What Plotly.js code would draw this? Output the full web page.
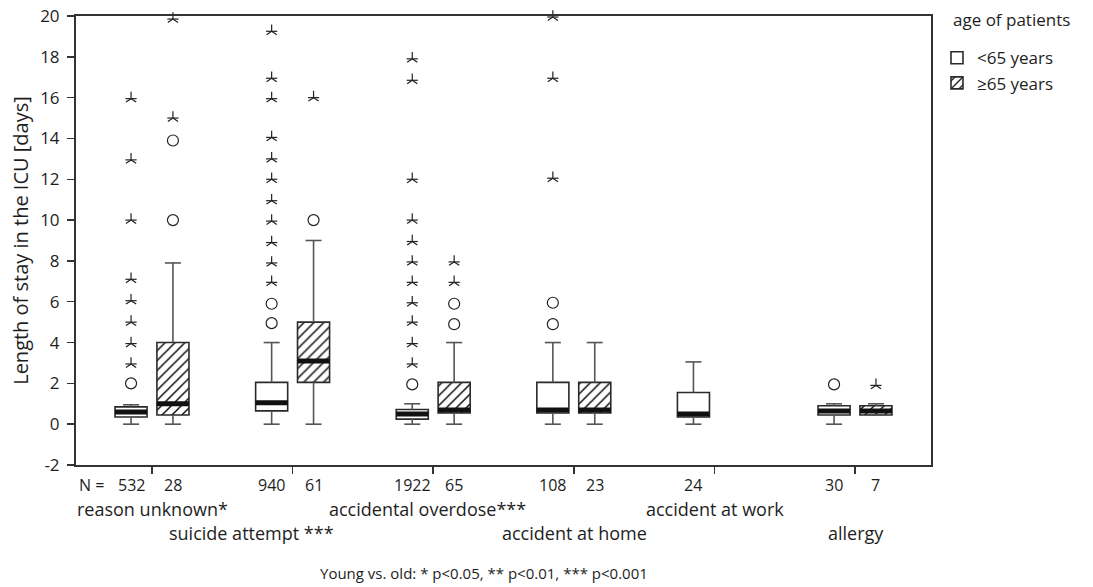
<!DOCTYPE html>
<html>
<head>
<meta charset="utf-8">
<script src="https://cdn.plot.ly/plotly-3.0.1.min.js"></script>
<style>
  html, body { margin: 0; padding: 0; background: #fff; }
  #chart { width: 1093px; height: 587px; }
</style>
</head>
<body>
<div id="chart"></div>
<script>
// ---------------- data ----------------
const categories = ["reason unknown", "suicide attempt", "accidental overdose", "accident at home", "accident at work", "allergy"];
const significance = ["*", " ***", "***", "", "", ""];
const nYoung = [532, 940, 1922, 108, 24, 30];
const nOld = [28, 61, 65, 23, null, 7];

// <65 years: box statistics (days)
const q1Young  = [0.35, 0.65, 0.25, 0.55, 0.35, 0.45];
const medYoung = [0.6, 1.05, 0.5, 0.7, 0.5, 0.65];
const q3Young  = [0.85, 2.05, 0.72, 2.05, 1.55, 0.9];
const loYoung  = [0, 0, 0, 0, 0, 0];
const hiYoung  = [0.95, 4, 1, 4, 3.05, 1];

// >=65 years: box statistics (days)
const q1Old  = [0.45, 2.05, 0.55, 0.55, null, 0.45];
const medOld = [1.0, 3.1, 0.7, 0.7, null, 0.65];
const q3Old  = [4, 5, 2.05, 2.05, null, 0.9];
const loOld  = [0, 0, 0, 0, null, 0.45];
const hiOld  = [7.9, 9, 4, 4, null, 1.0];

// outliers (circles) and extreme values (stars)
const circlesYoung = [[2], [4.95, 5.9], [1.95], [4.9, 5.95], [], [1.95]];
const starsYoung = [
  [2.95, 3.95, 5, 6.05, 7.1, 10, 12.95, 15.95],
  [6.95, 7.9, 8.9, 9.95, 10.95, 12, 13, 14.05, 15.95, 16.95, 19.25],
  [2.95, 3.95, 5, 5.95, 6.95, 7.95, 8.95, 10, 12, 16.85, 17.9],
  [12.05, 16.95, 19.95],
  [],
  []
];
const circlesOld = [[10, 13.9], [10], [4.9, 5.9], [], [], []];
const starsOld = [[15, 19.85], [16], [6.95, 7.95], [], [], [1.9]];

const yTickVals = [-2, 0, 2, 4, 6, 8, 10, 12, 14, 16, 18, 20];
const yTickText = ["-2", "0", "2", "4", "6", "8", "10", "12", "14", "16", "18", "20"];

// ---------------- style ----------------
const FONT = "Open Sans, Noto Sans, sans-serif";
const TXT = "#1e1e1e";
const OFFSET = 0.149;      // box centre offset from category centre
const BOXW = 0.228;        // box width (axis units)
const CAP = 0.057;         // half-width of whisker caps
const labelShift = [0, -41, -6, 1, 1, 0.5];   // px shift of category labels
const labelRow = [0, 1, 0, 1, 0, 1];

const catIdx = categories.map((c, i) => i);
const xYoung = catIdx.map(i => i - OFFSET);
const xOld = catIdx.map(i => i + OFFSET);

function whiskers(xs, q1, q3, lo, hi) {
  const X = [], Y = [];
  xs.forEach((x, i) => {
    if (q1[i] === null) return;
    X.push(x, x, null, x - CAP, x + CAP, null, x, x, null, x - CAP, x + CAP, null);
    Y.push(q3[i], hi[i], null, hi[i], hi[i], null, q1[i], lo[i], null, lo[i], lo[i], null);
  });
  return {X, Y};
}
function medians(xs, med) {
  const X = [], Y = [];
  xs.forEach((x, i) => {
    if (med[i] === null) return;
    X.push(x - BOXW / 2, x + BOXW / 2, null);
    Y.push(med[i], med[i], null);
  });
  return {X, Y};
}
function points(xs, lists) {
  const X = [], Y = [];
  xs.forEach((x, i) => lists[i].forEach(v => { X.push(x); Y.push(v); }));
  return {X, Y};
}

const traces = [];
const wY = whiskers(xYoung, q1Young, q3Young, loYoung, hiYoung);
const wO = whiskers(xOld, q1Old, q3Old, loOld, hiOld);
[wY, wO].forEach(w => traces.push({
  type: "scatter", mode: "lines", x: w.X, y: w.Y, connectgaps: false,
  line: {color: "#555", width: 1.6}, showlegend: false, hoverinfo: "skip"
}));

traces.push({
  type: "bar", name: "&lt;65 years", x: xYoung,
  base: q1Young, y: q3Young.map((v, i) => v - q1Young[i]),
  width: BOXW,
  marker: {color: "#ffffff", line: {color: "#2a2a2a", width: 1.6}},
  hoverinfo: "skip"
});
traces.push({
  type: "bar", name: "≥65 years", x: xOld,
  base: q1Old, y: q3Old.map((v, i) => v === null ? null : v - q1Old[i]),
  width: BOXW,
  marker: {color: "#ffffff", line: {color: "#2a2a2a", width: 1.6},
           pattern: {shape: "/", fgcolor: "#111", bgcolor: "#ffffff", size: 7, solidity: 0.22}},
  hoverinfo: "skip"
});

const mY = medians(xYoung, medYoung), mO = medians(xOld, medOld);
[mY, mO].forEach(m => traces.push({
  type: "scatter", mode: "lines", x: m.X, y: m.Y, connectgaps: false,
  line: {color: "#111", width: 5}, showlegend: false, hoverinfo: "skip"
}));

const cY = points(xYoung, circlesYoung), cO = points(xOld, circlesOld);
const sY = points(xYoung, starsYoung), sO = points(xOld, starsOld);
[cY, cO].forEach(p => traces.push({
  type: "scatter", mode: "markers", x: p.X, y: p.Y, cliponaxis: false,
  marker: {symbol: "circle-open", size: 11, color: "#222", line: {width: 1.2, color: "#222"}},
  showlegend: false, hoverinfo: "skip"
}));
[sY, sO].forEach(p => {
  traces.push({
    type: "scatter", mode: "markers", x: p.X, y: p.Y, cliponaxis: false,
    marker: {symbol: "y-up-open", size: 8.5, color: "#222", line: {width: 1.2, color: "#222"}},
    showlegend: false, hoverinfo: "skip"
  });
  traces.push({
    type: "scatter", mode: "markers", x: p.X, y: p.Y, cliponaxis: false,
    marker: {symbol: "line-ew-open", size: 8, color: "#222", line: {width: 1.2, color: "#222"}},
    showlegend: false, hoverinfo: "skip"
  });
});

// ---------------- annotations ----------------
const ann = [];
ann.push({xref: "paper", yref: "paper", x: 0, y: 0, xanchor: "left", yanchor: "middle",
  xshift: 1, yshift: -20, text: "N =", showarrow: false, font: {size: 16, color: TXT, family: FONT}});
xYoung.forEach((x, i) => ann.push({xref: "x", yref: "paper", x: x, y: 0, yanchor: "middle", yshift: -20,
  text: String(nYoung[i]), showarrow: false, font: {size: 16, color: TXT, family: FONT}}));
xOld.forEach((x, i) => { if (nOld[i] !== null) ann.push({xref: "x", yref: "paper", x: x, y: 0, yanchor: "middle", yshift: -20,
  text: String(nOld[i]), showarrow: false, font: {size: 16, color: TXT, family: FONT}}); });
categories.forEach((c, i) => ann.push({xref: "x", yref: "paper", x: i, y: 0, yanchor: "middle",
  xshift: labelShift[i], yshift: labelRow[i] ? -68 : -44,
  text: c + significance[i], showarrow: false, font: {size: 18, color: TXT, family: FONT}}));
ann.push({xref: "paper", yref: "paper", x: (484 - 76) / 855, y: 0, yanchor: "middle", yshift: -108,
  text: "Young vs. old: * p&lt;0.05, ** p&lt;0.01, *** p&lt;0.001", showarrow: false,
  font: {size: 15, color: TXT, family: FONT}});
// legend heading
ann.push({xref: "paper", yref: "paper", x: (951 - 76) / 855, y: 1, xanchor: "left", yanchor: "middle",
  yshift: -3, text: "age of patients", showarrow: false, font: {size: 17, color: TXT, family: FONT}});

const layout = {
  width: 1093, height: 587,
  margin: {l: 76, r: 162, t: 16, b: 122, pad: 0},
  paper_bgcolor: "#ffffff", plot_bgcolor: "#ffffff",
  font: {family: FONT, size: 16, color: TXT},
  barmode: "overlay",
  showlegend: true,
  legend: {x: 1.007, xanchor: "left", y: 0.946, yanchor: "top",
           font: {size: 17, color: TXT}, bgcolor: "rgba(0,0,0,0)", tracegroupgap: 0},
  xaxis: {range: [-0.5405, 5.5405], tickmode: "array", tickvals: catIdx, showticklabels: false,
          ticks: "outside", ticklen: 7, tickwidth: 1.5, tickcolor: "#333",
          showline: true, mirror: true, linecolor: "#333", linewidth: 2,
          showgrid: false, zeroline: false, fixedrange: true},
  yaxis: {range: [-2, 20], tickmode: "array", tickvals: yTickVals, ticktext: yTickText,
          ticks: "outside", ticklen: 7, tickwidth: 1.5, tickcolor: "#333",
          ticklabelstandoff: 4,
          tickfont: {size: 17, color: TXT},
          showline: true, mirror: true, linecolor: "#333", linewidth: 2,
          showgrid: false, zeroline: false, fixedrange: true,
          title: {text: "Length of stay in the ICU [days]", font: {size: 20, color: TXT}, standoff: 6}},
  annotations: ann
};

Plotly.newPlot("chart", traces, layout, {displayModeBar: false, staticPlot: true});
</script>
</body>
</html>
